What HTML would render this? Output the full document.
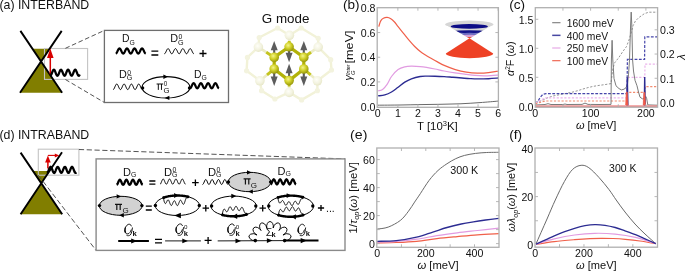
<!DOCTYPE html>
<html><head><meta charset="utf-8"><style>
html,body{margin:0;padding:0;background:#fff;width:685px;height:271px;overflow:hidden;}
svg{display:block;will-change:transform;}
text{font-family:"Liberation Sans",sans-serif;}
</style></head><body>
<svg width="685" height="271" viewBox="0 0 685 271">
<rect width="685" height="271" fill="#fff"/>
<text x="-0.6" y="9" font-size="12.6" text-anchor="start" fill="#111" textLength="89.8" lengthAdjust="spacingAndGlyphs">(a) INTERBAND</text>
<path d="M32.33 48.8 L49.71 48.8 L41 61.8 Z" fill="#817e00"/><path d="M41 61.8 L20 92.7 L62.1 92.7 Z" fill="#817e00"/><rect x="44.5" y="48.5" width="43.1" height="30.9" fill="none" stroke="#c4c4c4" stroke-width="1.1"/><path d="M20.4 30.9 L62.1 92.7 M61.7 30.9 L20 92.7" stroke="#000" stroke-width="1.9" fill="none" />
<line x1="50.3" y1="74.2" x2="50.3" y2="56" stroke="#d80000" stroke-width="1.5" />
<path d="M50.3 48.6 L47 58.1 L53.6 58.1 Z" fill="#d80000"/>
<path d="M50.3 75.7 L50.75 75.47 L51.19 74.81 L51.64 73.83 L52.09 72.67 L52.53 71.52 L52.98 70.55 L53.43 69.91 L53.88 69.7 L54.32 69.95 L54.77 70.63 L55.22 71.62 L55.66 72.79 L56.11 73.93 L56.56 74.89 L57 75.51 L57.45 75.7 L57.9 75.42 L58.35 74.73 L58.79 73.72 L59.24 72.56 L59.69 71.41 L60.13 70.47 L60.58 69.87 L61.03 69.7 L61.47 70 L61.92 70.71 L62.37 71.73 L62.82 72.9 L63.26 74.04 L63.71 74.97 L64.16 75.55 L64.6 75.69 L65.05 75.37 L65.5 74.64 L65.94 73.61 L66.39 72.44 L66.84 71.31 L67.28 70.4 L67.73 69.83 L68.18 69.71 L68.63 70.05 L69.07 70.8 L69.52 71.84 L69.97 73.01 L70.41 74.14 L70.86 75.04 L71.31 75.58 L71.75 75.68 L72.2 75.32 L72.65 74.55 L73.1 73.5 L73.54 72.33 L73.99 71.21 L74.44 70.32 L74.88 69.8 L75.33 69.73 L75.78 70.11 L76.22 70.89 L76.67 71.95 L77.12 73.13 L77.57 74.24 L78.01 75.11 L78.46 75.61 L78.91 75.67 L79.35 75.26 L79.8 74.46" stroke="#000" stroke-width="2.3" fill="none" />
<path d="M65.4 48.3 L104.4 30.4 M65.4 79.5 L104.4 102.5" stroke="#4a4a4a" stroke-width="0.95" fill="none" stroke-dasharray="4.6,2.6"/>
<rect x="104.4" y="30.4" width="124.1" height="72.1" fill="#fff" stroke="#6e6e6e" stroke-width="1.3"/>
<text x="121.9" y="41.8" font-size="10.4" text-anchor="start" fill="#111" >D</text><text x="129.41" y="44.7" font-size="6.8" text-anchor="start" fill="#111" >G</text>
<path d="M115.7 53.6 L116.17 53.4 L116.64 52.84 L117.11 51.99 L117.58 51 L118.05 50.01 L118.52 49.16 L118.99 48.6 L119.46 48.4 L119.93 48.6 L120.4 49.16 L120.87 50.01 L121.34 51 L121.81 51.99 L122.28 52.84 L122.75 53.4 L123.23 53.6 L123.7 53.4 L124.17 52.84 L124.64 51.99 L125.11 51 L125.58 50.01 L126.05 49.16 L126.52 48.6 L126.99 48.4 L127.46 48.6 L127.93 49.16 L128.4 50.01 L128.87 51 L129.34 51.99 L129.81 52.84 L130.28 53.4 L130.75 53.6 L131.22 53.4 L131.69 52.84 L132.16 51.99 L132.63 51 L133.1 50.01 L133.57 49.16 L134.04 48.6 L134.51 48.4 L134.98 48.6 L135.45 49.16 L135.92 50.01 L136.39 51 L136.86 51.99 L137.33 52.84 L137.8 53.4 L138.28 53.6 L138.75 53.4 L139.22 52.84 L139.69 51.99 L140.16 51 L140.63 50.01 L141.1 49.16 L141.57 48.6 L142.04 48.4 L142.51 48.6 L142.98 49.16 L143.45 50.01 L143.92 51 L144.39 51.99 L144.86 52.84 L145.33 53.4 L145.8 53.6" stroke="#000" stroke-width="2.2" fill="none" />
<path d="M151.4 51.2 H158.3 M151.4 55 H158.3" stroke="#000" stroke-width="1.3" fill="none" />
<text x="170.3" y="42.4" font-size="10.8" text-anchor="start" fill="#111" >D</text><text x="178.5" y="39.2" font-size="6.9" text-anchor="start" fill="#111" >0</text><text x="178.1" y="44.7" font-size="7.2" text-anchor="start" fill="#111" >G</text>
<path d="M164.4 53.8 L164.86 53.6 L165.32 53.04 L165.78 52.19 L166.24 51.2 L166.7 50.21 L167.17 49.36 L167.63 48.8 L168.09 48.6 L168.55 48.8 L169.01 49.36 L169.47 50.21 L169.93 51.2 L170.39 52.19 L170.85 53.04 L171.31 53.6 L171.78 53.8 L172.24 53.6 L172.7 53.04 L173.16 52.19 L173.62 51.2 L174.08 50.21 L174.54 49.36 L175 48.8 L175.46 48.6 L175.92 48.8 L176.38 49.36 L176.85 50.21 L177.31 51.2 L177.77 52.19 L178.23 53.04 L178.69 53.6 L179.15 53.8 L179.61 53.6 L180.07 53.04 L180.53 52.19 L180.99 51.2 L181.45 50.21 L181.92 49.36 L182.38 48.8 L182.84 48.6 L183.3 48.8 L183.76 49.36 L184.22 50.21 L184.68 51.2 L185.14 52.19 L185.6 53.04 L186.06 53.6 L186.53 53.8 L186.99 53.6 L187.45 53.04 L187.91 52.19 L188.37 51.2 L188.83 50.21 L189.29 49.36 L189.75 48.8 L190.21 48.6 L190.67 48.8 L191.13 49.36 L191.6 50.21 L192.06 51.2 L192.52 52.19 L192.98 53.04 L193.44 53.6 L193.9 53.8" stroke="#000" stroke-width="1" fill="none" />
<path d="M199.5 53.5 H206.5 M203 50 V57" stroke="#000" stroke-width="1.3" fill="none" />
<text x="119" y="78.2" font-size="10.8" text-anchor="start" fill="#111" >D</text><text x="127.2" y="74.9" font-size="6.9" text-anchor="start" fill="#111" >0</text><text x="126.8" y="80.2" font-size="7.2" text-anchor="start" fill="#111" >G</text>
<path d="M113.1 89.6 L113.56 89.39 L114.02 88.78 L114.47 87.87 L114.93 86.8 L115.39 85.73 L115.85 84.82 L116.3 84.21 L116.76 84 L117.22 84.21 L117.68 84.82 L118.14 85.73 L118.59 86.8 L119.05 87.87 L119.51 88.78 L119.97 89.39 L120.42 89.6 L120.88 89.39 L121.34 88.78 L121.8 87.87 L122.26 86.8 L122.71 85.73 L123.17 84.82 L123.63 84.21 L124.09 84 L124.55 84.21 L125 84.82 L125.46 85.73 L125.92 86.8 L126.38 87.87 L126.83 88.78 L127.29 89.39 L127.75 89.6 L128.21 89.39 L128.67 88.78 L129.12 87.87 L129.58 86.8 L130.04 85.73 L130.5 84.82 L130.95 84.21 L131.41 84 L131.87 84.21 L132.33 84.82 L132.79 85.73 L133.24 86.8 L133.7 87.87 L134.16 88.78 L134.62 89.39 L135.07 89.6 L135.53 89.39 L135.99 88.78 L136.45 87.87 L136.91 86.8 L137.36 85.73 L137.82 84.82 L138.28 84.21 L138.74 84 L139.2 84.21 L139.65 84.82 L140.11 85.73 L140.57 86.8 L141.03 87.87 L141.48 88.78 L141.94 89.39 L142.4 89.6" stroke="#000" stroke-width="1" fill="none" />
<ellipse cx="166" cy="87.3" rx="23.9" ry="10.7" fill="none" stroke="#000" stroke-width="1.05"/>
<path d="M168 76.7 L163.4 74.5 L163.4 78.9 Z" fill="#000"/>
<path d="M164.8 97.9 L169.4 95.7 L169.4 100.1 Z" fill="#000"/>
<circle cx="142.6" cy="87.9" r="1.7" fill="#000"/>
<circle cx="189.5" cy="87.9" r="1.7" fill="#000"/>
<path d="M156.6 84 H163.2 M158.32 84 V89.9 M161.48 84 V89.9" stroke="#111" stroke-width="1" fill="none" />
<text x="163.8" y="85.6" font-size="6.4" text-anchor="start" fill="#111" >0</text>
<text x="163.4" y="93.1" font-size="7.8" text-anchor="start" fill="#111" >G</text>
<text x="194" y="77.6" font-size="10.4" text-anchor="start" fill="#111" >D</text><text x="201.51" y="79.8" font-size="6.8" text-anchor="start" fill="#111" >G</text>
<path d="M190 88.3 L190.45 88.1 L190.91 87.54 L191.36 86.69 L191.81 85.7 L192.27 84.71 L192.72 83.86 L193.17 83.3 L193.62 83.1 L194.08 83.3 L194.53 83.86 L194.98 84.71 L195.44 85.7 L195.89 86.69 L196.34 87.54 L196.8 88.1 L197.25 88.3 L197.7 88.1 L198.16 87.54 L198.61 86.69 L199.06 85.7 L199.52 84.71 L199.97 83.86 L200.42 83.3 L200.88 83.1 L201.33 83.3 L201.78 83.86 L202.23 84.71 L202.69 85.7 L203.14 86.69 L203.59 87.54 L204.05 88.1 L204.5 88.3 L204.95 88.1 L205.41 87.54 L205.86 86.69 L206.31 85.7 L206.77 84.71 L207.22 83.86 L207.67 83.3 L208.12 83.1 L208.58 83.3 L209.03 83.86 L209.48 84.71 L209.94 85.7 L210.39 86.69 L210.84 87.54 L211.3 88.1 L211.75 88.3 L212.2 88.1 L212.66 87.54 L213.11 86.69 L213.56 85.7 L214.02 84.71 L214.47 83.86 L214.92 83.3 L215.38 83.1 L215.83 83.3 L216.28 83.86 L216.73 84.71 L217.19 85.7 L217.64 86.69 L218.09 87.54 L218.55 88.1 L219 88.3" stroke="#000" stroke-width="2.2" fill="none" />
<text x="261.8" y="23.4" font-size="13.6" text-anchor="start" fill="#111" textLength="47.6" lengthAdjust="spacingAndGlyphs">G mode</text>
<defs><radialGradient id="fa" cx="0.42" cy="0.38" r="0.65"><stop offset="0" stop-color="#fefef8"/><stop offset="0.6" stop-color="#f3f3e0"/><stop offset="1" stop-color="#e6e6c6"/></radialGradient><radialGradient id="ca" cx="0.4" cy="0.35" r="0.7"><stop offset="0" stop-color="#f4f48c"/><stop offset="0.45" stop-color="#d2d22a"/><stop offset="1" stop-color="#8e8e06"/></radialGradient><linearGradient id="dummy"><stop offset="0" stop-color="#000"/></linearGradient></defs>
<line x1="289.4" y1="35.3" x2="277.6" y2="28" stroke="#f2f2d8" stroke-width="2.4" stroke-linecap="round"/>
<line x1="289.4" y1="35.3" x2="301.2" y2="28" stroke="#f2f2d8" stroke-width="2.4" stroke-linecap="round"/>
<line x1="277.6" y1="28" x2="259.2" y2="37.5" stroke="#f2f2d8" stroke-width="2.4" stroke-linecap="round"/>
<line x1="259.2" y1="37.5" x2="258.4" y2="47.1" stroke="#f2f2d8" stroke-width="2.4" stroke-linecap="round"/>
<line x1="258.4" y1="47.1" x2="247.4" y2="57.4" stroke="#f2f2d8" stroke-width="2.4" stroke-linecap="round"/>
<line x1="247.4" y1="57.4" x2="246.6" y2="70.8" stroke="#f2f2d8" stroke-width="2.4" stroke-linecap="round"/>
<line x1="246.6" y1="70.8" x2="259.9" y2="80.8" stroke="#f2f2d8" stroke-width="2.4" stroke-linecap="round"/>
<line x1="259.9" y1="80.8" x2="261.6" y2="90.7" stroke="#f2f2d8" stroke-width="2.4" stroke-linecap="round"/>
<line x1="261.6" y1="90.7" x2="274.9" y2="99" stroke="#f2f2d8" stroke-width="2.4" stroke-linecap="round"/>
<line x1="274.9" y1="99" x2="289.2" y2="92.4" stroke="#f2f2d8" stroke-width="2.4" stroke-linecap="round"/>
<line x1="289.2" y1="92.4" x2="301.6" y2="99.9" stroke="#f2f2d8" stroke-width="2.4" stroke-linecap="round"/>
<line x1="301.6" y1="99.9" x2="317.4" y2="90.7" stroke="#f2f2d8" stroke-width="2.4" stroke-linecap="round"/>
<line x1="317.4" y1="90.7" x2="317.4" y2="80.8" stroke="#f2f2d8" stroke-width="2.4" stroke-linecap="round"/>
<line x1="317.4" y1="80.8" x2="331.5" y2="70" stroke="#f2f2d8" stroke-width="2.4" stroke-linecap="round"/>
<line x1="331.5" y1="70" x2="330.7" y2="59.7" stroke="#f2f2d8" stroke-width="2.4" stroke-linecap="round"/>
<line x1="330.7" y1="59.7" x2="318.2" y2="47.1" stroke="#f2f2d8" stroke-width="2.4" stroke-linecap="round"/>
<line x1="318.2" y1="47.1" x2="318.2" y2="38.3" stroke="#f2f2d8" stroke-width="2.4" stroke-linecap="round"/>
<line x1="318.2" y1="38.3" x2="301.2" y2="28" stroke="#f2f2d8" stroke-width="2.4" stroke-linecap="round"/>
<line x1="289.1" y1="46.8" x2="289.4" y2="35.3" stroke="#ececc4" stroke-width="2.6" stroke-linecap="round"/>
<line x1="274.2" y1="57.4" x2="258.4" y2="47.1" stroke="#ececc4" stroke-width="2.6" stroke-linecap="round"/>
<line x1="303.8" y1="57.4" x2="318.2" y2="47.1" stroke="#ececc4" stroke-width="2.6" stroke-linecap="round"/>
<line x1="274.2" y1="69" x2="259.9" y2="80.8" stroke="#ececc4" stroke-width="2.6" stroke-linecap="round"/>
<line x1="303.8" y1="69" x2="317.4" y2="80.8" stroke="#ececc4" stroke-width="2.6" stroke-linecap="round"/>
<line x1="289.1" y1="80.6" x2="289.2" y2="92.4" stroke="#ececc4" stroke-width="2.6" stroke-linecap="round"/>
<circle cx="289.4" cy="35.3" r="4.8" fill="url(#fa)"/>
<circle cx="277.6" cy="28" r="2.6" fill="#f3f3de"/>
<circle cx="301.2" cy="28" r="2.6" fill="#f3f3de"/>
<circle cx="258.4" cy="47.1" r="4.8" fill="url(#fa)"/>
<circle cx="259.2" cy="37.5" r="2.6" fill="#f3f3de"/>
<circle cx="247.4" cy="57.4" r="2.6" fill="#f3f3de"/>
<circle cx="318.2" cy="47.1" r="4.8" fill="url(#fa)"/>
<circle cx="318.2" cy="38.3" r="2.6" fill="#f3f3de"/>
<circle cx="330.7" cy="59.7" r="2.6" fill="#f3f3de"/>
<circle cx="259.9" cy="80.8" r="4.8" fill="url(#fa)"/>
<circle cx="246.6" cy="70.8" r="2.6" fill="#f3f3de"/>
<circle cx="261.6" cy="90.7" r="2.6" fill="#f3f3de"/>
<circle cx="317.4" cy="80.8" r="4.8" fill="url(#fa)"/>
<circle cx="331.5" cy="70" r="2.6" fill="#f3f3de"/>
<circle cx="317.4" cy="90.7" r="2.6" fill="#f3f3de"/>
<circle cx="289.2" cy="92.4" r="4.8" fill="url(#fa)"/>
<circle cx="274.9" cy="99" r="2.6" fill="#f3f3de"/>
<circle cx="301.6" cy="99.9" r="2.6" fill="#f3f3de"/>
<line x1="289.1" y1="46.8" x2="289.25" y2="41.05" stroke="#c4c41e" stroke-width="2.9" />
<line x1="274.2" y1="57.4" x2="266.3" y2="52.25" stroke="#c4c41e" stroke-width="2.9" />
<line x1="303.8" y1="57.4" x2="311" y2="52.25" stroke="#c4c41e" stroke-width="2.9" />
<line x1="274.2" y1="69" x2="267.05" y2="74.9" stroke="#c4c41e" stroke-width="2.9" />
<line x1="303.8" y1="69" x2="310.6" y2="74.9" stroke="#c4c41e" stroke-width="2.9" />
<line x1="289.1" y1="80.6" x2="289.15" y2="86.5" stroke="#c4c41e" stroke-width="2.9" />
<path d="M289.1 46.8 L303.8 57.4 L303.8 69 L289.1 80.6 L274.2 69 L274.2 57.4 L289.1 46.8" stroke="#b2b208" stroke-width="3.2" fill="none" />
<line x1="274.2" y1="57.4" x2="274.2" y2="49.4" stroke="#5c5c5c" stroke-width="2.1" /><path d="M274.2 40.9 L270.7 50.3 L277.7 50.3 Z" fill="#5c5c5c"/>
<line x1="303.8" y1="57.4" x2="303.8" y2="49.4" stroke="#5c5c5c" stroke-width="2.1" /><path d="M303.8 40.9 L300.3 50.3 L307.3 50.3 Z" fill="#5c5c5c"/>
<line x1="274.2" y1="69" x2="274.2" y2="77.5" stroke="#5c5c5c" stroke-width="2.1" /><path d="M274.2 86 L270.7 76.6 L277.7 76.6 Z" fill="#5c5c5c"/>
<line x1="303.8" y1="69" x2="303.8" y2="77.5" stroke="#5c5c5c" stroke-width="2.1" /><path d="M303.8 86 L300.3 76.6 L307.3 76.6 Z" fill="#5c5c5c"/>
<line x1="289.1" y1="46.8" x2="289.1" y2="53.7" stroke="#5c5c5c" stroke-width="2.1" /><path d="M289.1 62.2 L285.6 52.8 L292.6 52.8 Z" fill="#5c5c5c"/>
<line x1="289.1" y1="80.6" x2="289.1" y2="72.3" stroke="#5c5c5c" stroke-width="2.1" /><path d="M289.1 63.8 L285.6 73.2 L292.6 73.2 Z" fill="#5c5c5c"/>
<circle cx="289.1" cy="46.8" r="4.8" fill="url(#ca)"/>
<circle cx="274.2" cy="57.4" r="4.8" fill="url(#ca)"/>
<circle cx="303.8" cy="57.4" r="4.8" fill="url(#ca)"/>
<circle cx="274.2" cy="69" r="4.8" fill="url(#ca)"/>
<circle cx="303.8" cy="69" r="4.8" fill="url(#ca)"/>
<circle cx="289.1" cy="80.6" r="4.8" fill="url(#ca)"/>
<text x="343" y="9.1" font-size="12.4" text-anchor="start" fill="#111" textLength="16.5" lengthAdjust="spacingAndGlyphs">(b)</text>
<text x="375.5" y="12.12" font-size="10.6" text-anchor="end" fill="#111" >0.8</text><text x="375.5" y="36.8" font-size="10.6" text-anchor="end" fill="#111" >0.6</text><text x="375.5" y="61.48" font-size="10.6" text-anchor="end" fill="#111" >0.4</text><text x="375.5" y="86.16" font-size="10.6" text-anchor="end" fill="#111" >0.2</text><text x="375.5" y="110.84" font-size="10.6" text-anchor="end" fill="#111" >0.0</text>
<text x="377.8" y="116.7" font-size="10.6" text-anchor="middle" fill="#111" >0</text><text x="397.85" y="116.7" font-size="10.6" text-anchor="middle" fill="#111" >1</text><text x="417.9" y="116.7" font-size="10.6" text-anchor="middle" fill="#111" >2</text><text x="437.95" y="116.7" font-size="10.6" text-anchor="middle" fill="#111" >3</text><text x="458" y="116.7" font-size="10.6" text-anchor="middle" fill="#111" >4</text><text x="478.05" y="116.7" font-size="10.6" text-anchor="middle" fill="#111" >5</text><text x="498.1" y="116.7" font-size="10.6" text-anchor="middle" fill="#111" >6</text>
<text x="417" y="130.1" font-size="10.8" text-anchor="start" fill="#111" textLength="40.8" lengthAdjust="spacingAndGlyphs">T [10<tspan dy="-3.8" font-size="7.2">3</tspan><tspan dy="3.8">K]</tspan></text>
<g transform="translate(353 80.6) rotate(-90)" fill="#111"><text x="0" y="-0.6" font-size="11" font-style="italic">&#947;</text><text x="5.7" y="-3.3" font-size="6.2" font-style="italic" textLength="10.4" lengthAdjust="spacingAndGlyphs">Inter</text><text x="5.7" y="1.6" font-size="5.8" font-style="italic">G</text><text x="17.2" y="0" font-size="10.2" textLength="33" lengthAdjust="spacingAndGlyphs">[meV]</text></g>
<path d="M378 105.2 C381.67 105.17 393 105.1 400 105 C407 104.9 413.33 104.72 420 104.6 C426.67 104.48 433.33 104.43 440 104.3 C446.67 104.17 453.33 104.08 460 103.8 C466.67 103.52 473.63 103.05 480 102.6 C486.37 102.15 495.17 101.35 498.2 101.1" stroke="#6a6a6a" stroke-width="1" fill="none" />
<path d="M378.2 95.8 C379.3 95.65 382.58 95.53 384.8 94.9 C387.02 94.27 389.28 93.28 391.5 92 C393.72 90.72 395.88 88.85 398.1 87.2 C400.32 85.55 402.58 83.5 404.8 82.1 C407.02 80.7 408.83 79.73 411.4 78.8 C413.97 77.87 417.68 76.95 420.2 76.5 C422.72 76.05 424.03 76.15 426.5 76.1 C428.97 76.05 432.05 76.12 435 76.2 C437.95 76.28 441.2 76.42 444.2 76.6 C447.2 76.78 450.03 77.07 453 77.3 C455.97 77.53 459.17 77.78 462 78 C464.83 78.22 467.43 78.45 470 78.6 C472.57 78.75 474.32 78.88 477.4 78.9 C480.48 78.92 484.98 78.85 488.5 78.7 C492.02 78.55 496.83 78.12 498.5 78" stroke="#2c2c92" stroke-width="1.4" fill="none" />
<path d="M378.2 90.9 C378.93 90.65 381.12 90.5 382.6 89.4 C384.08 88.3 385.62 86.45 387.1 84.3 C388.58 82.15 389.67 78.97 391.5 76.5 C393.33 74.03 395.88 71.12 398.1 69.5 C400.32 67.88 402.58 67.35 404.8 66.8 C407.02 66.25 408.83 66.23 411.4 66.2 C413.97 66.17 417.68 66.4 420.2 66.6 C422.72 66.8 424.03 67 426.5 67.4 C428.97 67.8 432.05 68.4 435 69 C437.95 69.6 440.87 70.37 444.2 71 C447.53 71.63 451.3 72.25 455 72.8 C458.7 73.35 463.07 73.88 466.4 74.3 C469.73 74.72 472.07 75.05 475 75.3 C477.93 75.55 481.33 75.75 484 75.8 C486.67 75.85 488.58 75.73 491 75.6 C493.42 75.47 497.25 75.1 498.5 75" stroke="#e19be1" stroke-width="1.2" fill="none" />
<path d="M378.8 26.6 C379.1 25.68 379.83 22.48 380.6 21.1 C381.37 19.72 382.32 18.92 383.4 18.3 C384.48 17.68 385.87 17.33 387.1 17.4 C388.33 17.47 389.57 17.93 390.8 18.7 C392.03 19.47 393.28 20.68 394.5 22 C395.72 23.32 396.57 24.67 398.1 26.6 C399.63 28.53 401.85 31.3 403.7 33.6 C405.55 35.9 407.37 38.25 409.2 40.4 C411.03 42.55 412.85 44.65 414.7 46.5 C416.55 48.35 418.45 50.05 420.3 51.5 C422.15 52.95 423.95 54.03 425.8 55.2 C427.65 56.37 429.45 57.38 431.4 58.5 C433.35 59.62 435.37 60.75 437.5 61.9 C439.63 63.05 441.23 64.12 444.2 65.4 C447.17 66.68 451.6 68.47 455.3 69.6 C459 70.73 462.72 71.6 466.4 72.2 C470.08 72.8 473.72 73.12 477.4 73.2 C481.08 73.28 484.98 73.07 488.5 72.7 C492.02 72.33 496.83 71.28 498.5 71" stroke="#f0604a" stroke-width="1.2" fill="none" />
<ellipse cx="469.3" cy="24.4" rx="24.2" ry="3.8" fill="#d6d6d6"/>
<path d="M445.2 24.4 L469.5 38.4 L493.4 24.4 Z" fill="#d6d6d6"/>
<clipPath id="cone"><path d="M445.2 24.4 L469.5 38.4 L493.4 24.4 Z"/><ellipse cx="469.3" cy="24.4" rx="24.2" ry="3.8"/></clipPath>
<g clip-path="url(#cone)"><ellipse cx="469.3" cy="26.4" rx="18.6" ry="2.3" fill="#0c0c86"/><ellipse cx="469.3" cy="31.6" rx="15.6" ry="1.45" fill="#14148a"/><ellipse cx="469.3" cy="34.0" rx="12.0" ry="1.2" fill="#6c6cc0"/><ellipse cx="469.3" cy="35.9" rx="8.0" ry="1.1" fill="#d6a2d6"/><path d="M463.5 37.0 L475.5 37.0 L469.5 38.8 Z" fill="#ec4a30"/></g>
<path d="M469.5 38.3 L445.8 53.4 A23.7 4.8 0 0 0 493.2 53.4 Z" fill="#ee4125"/>
<rect x="377.2" y="7.7" width="121.2" height="99.6" fill="none" stroke="#b0b0b0" stroke-width="1.3"/>
<path d="M397.85 107.3 V104.3 M417.9 107.3 V104.3 M437.95 107.3 V104.3 M458 107.3 V104.3 M478.05 107.3 V104.3 M498.1 107.3 V104.3 M397.85 7.7 V10.7 M417.9 7.7 V10.7 M437.95 7.7 V10.7 M458 7.7 V10.7 M478.05 7.7 V10.7 M498.1 7.7 V10.7 M377.2 81.92 H380.2 M377.2 57.24 H380.2 M377.2 32.56 H380.2 M498.4 81.92 H495.4 M498.4 57.24 H495.4 M498.4 32.56 H495.4 " stroke="#b0b0b0" stroke-width="0.9" fill="none" />
<text x="509.2" y="9.1" font-size="12.4" text-anchor="start" fill="#111" textLength="15.9" lengthAdjust="spacingAndGlyphs">(c)</text>
<text x="533.4" y="23.54" font-size="10.6" text-anchor="end" fill="#111" >1.5</text><text x="533.4" y="52.54" font-size="10.6" text-anchor="end" fill="#111" >1.0</text><text x="533.4" y="81.54" font-size="10.6" text-anchor="end" fill="#111" >0.5</text><text x="533.4" y="110.54" font-size="10.6" text-anchor="end" fill="#111" >0.0</text>
<text x="660" y="34.05" font-size="10.6" text-anchor="start" fill="#111" >0.3</text><text x="660" y="58.28" font-size="10.6" text-anchor="start" fill="#111" >0.2</text><text x="660" y="82.51" font-size="10.6" text-anchor="start" fill="#111" >0.1</text><text x="660" y="106.74" font-size="10.6" text-anchor="start" fill="#111" >0.0</text>
<text x="535.3" y="116.7" font-size="10.6" text-anchor="middle" fill="#111" >0</text><text x="590.6" y="116.7" font-size="10.6" text-anchor="middle" fill="#111" >100</text><text x="645.9" y="116.7" font-size="10.6" text-anchor="middle" fill="#111" >200</text>
<text x="575.9" y="129.4" font-size="10.8" text-anchor="start" fill="#111" textLength="40.4" lengthAdjust="spacingAndGlyphs"><tspan font-style="italic">&#969;</tspan> [meV]</text>
<g transform="translate(514.3 75.9) rotate(-90)" fill="#111"><text x="0" y="0" font-size="10.6" textLength="34.4" lengthAdjust="spacingAndGlyphs"><tspan font-style="italic">&#945;</tspan><tspan font-size="6.4" dy="-4.4">2</tspan><tspan dy="4.4">F (</tspan><tspan font-style="italic">&#969;</tspan>)</text></g>
<text transform="translate(684.8 57.0) rotate(-90)" font-size="11.4" text-anchor="middle" fill="#111" font-style="italic">&#955;</text>
<line x1="552.2" y1="22.7" x2="560.5" y2="22.7" stroke="#7a7a7a" stroke-width="1.1" />
<text x="566.8" y="26.9" font-size="10.3" text-anchor="start" fill="#111" >1600 meV</text>
<line x1="552.2" y1="35.35" x2="560.5" y2="35.35" stroke="#4848a2" stroke-width="1.5" />
<text x="566.8" y="39.55" font-size="10.3" text-anchor="start" fill="#111" >400 meV</text>
<line x1="552.2" y1="48" x2="560.5" y2="48" stroke="#f0ccf0" stroke-width="2" />
<text x="566.8" y="52.2" font-size="10.3" text-anchor="start" fill="#111" >250 meV</text>
<line x1="552.2" y1="60.65" x2="560.5" y2="60.65" stroke="#f07462" stroke-width="1.3" />
<text x="566.8" y="64.85" font-size="10.3" text-anchor="start" fill="#111" >100 meV</text>
<path d="M535.5 102.6 L539 101.6 L543 100 L548 97.6 L553 96 L558 95 L563 94 L568 93 L573 92 L578 90.6 L583 89 L588 87.6 L593 86.4 L599 85.4 L605 84.6 L611 83.6 L612.6 70 L614.5 63 L618.8 57.6 L622.5 52 L626.5 46.5 L629 40 L631 33.2 L633.2 25.5 L635.4 21 L638.7 17.7 L644.3 13.7 L648.7 12.2 L657.3 12.2" stroke="#8a8a8a" stroke-width="0.9" fill="none" stroke-dasharray="2.2,1.6"/>
<path d="M535.3 103.5 L538 101 L540.5 97 L543 94.2 L546 93.6 L627 93.6 L627.4 59.4 L644.6 59.4 L644.8 36.8 L657.3 36.8" stroke="#4646aa" stroke-width="1.2" fill="none" stroke-dasharray="2.8,1.5"/>
<path d="M535.3 103.2 L545 97.8 L627 97.8 L627.3 77.4 L644.8 77.4 L645 64.1 L657.3 64.1" stroke="#ecb4ec" stroke-width="1.2" fill="none" stroke-dasharray="2.2,1.6"/>
<path d="M535.3 103.8 L545 101 L627 101 L627.3 92.4 L644.8 92.4 L645 86.6 L657.3 86.6" stroke="#f28c70" stroke-width="1.2" fill="none" stroke-dasharray="2.2,1.6"/>
<path d="M535.5 105 L545 104.5 L548 103.7 L551 104.5 L563 104.5 L565 104 L567 104.5 L582 104.4 L585 103.1 L588 104.4 L600 104.5 L611 104.4 L611.4 60 L612.1 40.3 L612.8 60 L614 78.5 L616 85.8 L619 88.6 L621.5 89.9 L624 89.2 L626 87.7 L627.5 84 L628.5 74.8 L629.5 60 L630.6 25 L631.2 12.1 L631.8 25 L632.6 60 L633.5 71 L635 80.3 L637 85.8 L638.5 92 L640 97.2 L642.4 98.8 L644.6 98.2 L645.8 96.6 L646.6 98.2 L647.8 104.9 L657 105.2" stroke="#747474" stroke-width="0.95" fill="none" stroke-linejoin="round"/>
<path d="M626.9 106.2 L627.3 77.3 L627.9 106.2 M644.3 106.2 L644.7 77 L645.2 106.2" stroke="#2c2c92" stroke-width="1.4" fill="none" />
<path d="M625.6 105 L626.2 92.3 L627.3 92.3 L628 105 Z" stroke="#f25a46" stroke-width="0.6" fill="#f25a46" />
<path d="M643.2 105 L643.8 92.4 L644.8 92.4 L645.5 105 Z" stroke="#f25a46" stroke-width="0.6" fill="#f25a46" />
<rect x="535.3" y="105.3" width="122.3" height="1.9" fill="#f08a8a"/>
<rect x="535.3" y="7.7" width="122.3" height="99.5" fill="none" stroke="#b0b0b0" stroke-width="1.3"/>
<path d="M562.95 107.2 V104.2 M590.6 107.2 V104.2 M618.25 107.2 V104.2 M645.9 107.2 V104.2 M562.95 7.7 V10.7 M590.6 7.7 V10.7 M618.25 7.7 V10.7 M645.9 7.7 V10.7 M535.3 77.3 H538.3 M535.3 48.3 H538.3 M535.3 19.3 H538.3 M657.6 78.27 H654.6 M657.6 54.04 H654.6 M657.6 29.81 H654.6 " stroke="#b0b0b0" stroke-width="0.9" fill="none" />
<text x="350.1" y="139.3" font-size="12.4" text-anchor="start" fill="#111" textLength="17.3" lengthAdjust="spacingAndGlyphs">(e)</text>
<text x="374.9" y="163.84" font-size="10.6" text-anchor="end" fill="#111" >60</text><text x="374.9" y="191.84" font-size="10.6" text-anchor="end" fill="#111" >40</text><text x="374.9" y="219.84" font-size="10.6" text-anchor="end" fill="#111" >20</text><text x="374.9" y="247.84" font-size="10.6" text-anchor="end" fill="#111" >0</text>
<text x="377.1" y="256.8" font-size="10.6" text-anchor="middle" fill="#111" >0</text><text x="425.8" y="256.8" font-size="10.6" text-anchor="middle" fill="#111" >200</text><text x="474.5" y="256.8" font-size="10.6" text-anchor="middle" fill="#111" >400</text>
<text x="417.4" y="269.1" font-size="10.8" text-anchor="start" fill="#111" textLength="41.2" lengthAdjust="spacingAndGlyphs"><tspan font-style="italic">&#969;</tspan> [meV]</text>
<g transform="translate(357.2 233.6) rotate(-90)" fill="#111"><text x="0" y="0" font-size="10.6" textLength="71.6" lengthAdjust="spacingAndGlyphs">1/<tspan font-style="italic">&#964;</tspan><tspan font-size="7" dy="2.2" font-style="italic">op</tspan><tspan dy="-2.2">(</tspan><tspan font-style="italic">&#969;</tspan>) [meV]</text></g>
<text x="450.2" y="173.8" font-size="10.6" text-anchor="start" fill="#111" textLength="28.1" lengthAdjust="spacingAndGlyphs">300 K</text>
<path d="M377.2 229.1 C379.03 228.77 384.33 228.55 388.2 227.1 C392.07 225.65 397.02 223.05 400.4 220.4 C403.78 217.75 406.13 214.25 408.5 211.2 C410.87 208.15 412.63 205.02 414.6 202.1 C416.57 199.18 417.88 197.32 420.3 193.7 C422.72 190.08 426.15 184.27 429.1 180.4 C432.05 176.53 435.03 173.27 438 170.5 C440.97 167.73 443.95 165.77 446.9 163.8 C449.85 161.83 452.75 160.1 455.7 158.7 C458.65 157.3 461.28 156.28 464.6 155.4 C467.92 154.52 471.92 153.88 475.6 153.4 C479.28 152.92 482.83 152.68 486.7 152.5 C490.57 152.32 496.78 152.33 498.8 152.3" stroke="#6a6a6a" stroke-width="1" fill="none" />
<path d="M377.2 242.9 C380.38 242.83 389.73 242.77 396.3 242.5 C402.87 242.23 409.83 241.95 416.6 241.3 C423.37 240.65 430.13 239.38 436.9 238.6 C443.67 237.82 450.43 237.23 457.2 236.6 C463.97 235.97 470.57 235.3 477.5 234.8 C484.43 234.3 495.25 233.8 498.8 233.6" stroke="#f0604a" stroke-width="1.2" fill="none" />
<path d="M377.2 242.1 C380.38 241.97 389.73 241.78 396.3 241.3 C402.87 240.82 409.83 240.15 416.6 239.2 C423.37 238.25 430.13 236.67 436.9 235.6 C443.67 234.53 450.43 233.65 457.2 232.8 C463.97 231.95 470.57 231.28 477.5 230.5 C484.43 229.72 495.25 228.5 498.8 228.1" stroke="#e19be1" stroke-width="1.2" fill="none" />
<path d="M377.2 241.3 C380.38 241.2 389.73 241.38 396.3 240.7 C402.87 240.02 410.52 238.63 416.6 237.2 C422.68 235.77 427.73 233.72 432.8 232.1 C437.87 230.48 442.27 228.85 447 227.5 C451.73 226.15 456.8 224.95 461.2 224 C465.6 223.05 469.33 222.47 473.4 221.8 C477.47 221.13 481.37 220.58 485.6 220 C489.83 219.42 496.6 218.58 498.8 218.3" stroke="#2c2c92" stroke-width="1.3" fill="none" />
<rect x="376.8" y="148" width="122.2" height="99.3" fill="none" stroke="#b0b0b0" stroke-width="1.3"/>
<path d="M401.45 247.3 V244.3 M425.8 247.3 V244.3 M450.15 247.3 V244.3 M474.5 247.3 V244.3 M401.45 148 V151 M425.8 148 V151 M450.15 148 V151 M474.5 148 V151 M376.8 243.6 H379.8 M376.8 229.6 H379.8 M376.8 215.6 H379.8 M376.8 201.6 H379.8 M376.8 187.6 H379.8 M376.8 173.6 H379.8 M376.8 159.6 H379.8 M499 243.6 H496 M499 229.6 H496 M499 215.6 H496 M499 201.6 H496 M499 187.6 H496 M499 173.6 H496 M499 159.6 H496 " stroke="#b0b0b0" stroke-width="0.9" fill="none" />
<text x="509.2" y="139.3" font-size="12.4" text-anchor="start" fill="#111" textLength="13" lengthAdjust="spacingAndGlyphs">(f)</text>
<text x="533.2" y="152.54" font-size="10.6" text-anchor="end" fill="#111" >40</text><text x="533.2" y="200.84" font-size="10.6" text-anchor="end" fill="#111" >20</text><text x="533.2" y="249.14" font-size="10.6" text-anchor="end" fill="#111" >0</text>
<text x="535.1" y="256.8" font-size="10.6" text-anchor="middle" fill="#111" >0</text><text x="583.96" y="256.8" font-size="10.6" text-anchor="middle" fill="#111" >200</text><text x="632.82" y="256.8" font-size="10.6" text-anchor="middle" fill="#111" >400</text>
<text x="576" y="269.1" font-size="10.8" text-anchor="start" fill="#111" textLength="40.6" lengthAdjust="spacingAndGlyphs"><tspan font-style="italic">&#969;</tspan> [meV]</text>
<g transform="translate(515.4 231.7) rotate(-90)" fill="#111"><text x="0" y="0" font-size="10.6" textLength="69" lengthAdjust="spacingAndGlyphs"><tspan font-style="italic">&#969;&#955;</tspan><tspan font-size="7" dy="2.2" font-style="italic">op</tspan><tspan dy="-2.2">(</tspan><tspan font-style="italic">&#969;</tspan>) [meV]</text></g>
<text x="609.1" y="172.4" font-size="10.6" text-anchor="start" fill="#111" textLength="27.4" lengthAdjust="spacingAndGlyphs">300 K</text>
<path d="M536 243.9 C537.83 239.75 543.78 226.32 547 219 C550.22 211.68 552.4 206.25 555.3 200 C558.2 193.75 561.52 186.6 564.4 181.5 C567.28 176.4 569.82 172.1 572.6 169.4 C575.38 166.7 578.4 165.58 581.1 165.3 C583.8 165.02 585.82 165.67 588.8 167.7 C591.78 169.73 595.62 173.83 599 177.5 C602.38 181.17 606.23 185.95 609.1 189.7 C611.97 193.45 613.55 196.28 616.2 200 C618.85 203.72 621.87 208 625 212 C628.13 216 631.67 220.33 635 224 C638.33 227.67 641.53 230.72 645 234 C648.47 237.28 654 242.08 655.8 243.7" stroke="#6a6a6a" stroke-width="1" fill="none" />
<path d="M536 244.5 C539.05 244.03 547.87 242.5 554.3 241.7 C560.73 240.9 568.65 240.22 574.6 239.7 C580.55 239.18 585.6 238.83 590 238.6 C594.4 238.37 597.17 238.32 601 238.3 C604.83 238.28 608.95 238.33 613 238.5 C617.05 238.67 620.8 238.88 625.3 239.3 C629.8 239.72 634.92 240.27 640 241 C645.08 241.73 653.17 243.25 655.8 243.7" stroke="#f0604a" stroke-width="1.2" fill="none" />
<path d="M536 244.1 C539.05 243.23 547.87 240.42 554.3 238.9 C560.73 237.38 567.83 235.93 574.6 235 C581.37 234.07 588.13 233.45 594.9 233.3 C601.67 233.15 608.43 233.42 615.2 234.1 C621.97 234.78 628.73 235.8 635.5 237.4 C642.27 239 652.42 242.65 655.8 243.7" stroke="#e19be1" stroke-width="1.2" fill="none" />
<path d="M536 244.1 C537.5 243.45 541.95 241.58 545 240.2 C548.05 238.82 551.13 237.2 554.3 235.8 C557.47 234.4 560.62 233.05 564 231.8 C567.38 230.55 571.1 229.32 574.6 228.3 C578.1 227.28 581.62 226.32 585 225.7 C588.38 225.08 591.57 224.67 594.9 224.6 C598.23 224.53 601.62 224.82 605 225.3 C608.38 225.78 611.87 226.58 615.2 227.5 C618.53 228.42 621.62 229.62 625 230.8 C628.38 231.98 632.17 233.27 635.5 234.6 C638.83 235.93 641.62 237.28 645 238.8 C648.38 240.32 654 242.88 655.8 243.7" stroke="#2c2c92" stroke-width="1.3" fill="none" />
<rect x="535" y="148" width="122.5" height="99.2" fill="none" stroke="#b0b0b0" stroke-width="1.3"/>
<path d="M559.53 247.2 V244.2 M583.96 247.2 V244.2 M608.39 247.2 V244.2 M632.82 247.2 V244.2 M559.53 148 V151 M583.96 148 V151 M608.39 148 V151 M632.82 148 V151 M535 220.75 H538 M535 196.6 H538 M535 172.45 H538 M657.5 220.75 H654.5 M657.5 196.6 H654.5 M657.5 172.45 H654.5 " stroke="#b0b0b0" stroke-width="0.9" fill="none" />
<text x="-0.6" y="139" font-size="12.6" text-anchor="start" fill="#111" textLength="89.8" lengthAdjust="spacingAndGlyphs">(d) INTRABAND</text>
<path d="M32.52 170.9 L49.4 170.9 L40.8 183.6 Z" fill="#817e00"/><path d="M40.8 183.6 L20.6 214.3 L62.2 214.3 Z" fill="#817e00"/><rect x="38.3" y="149.2" width="40.6" height="26" fill="none" stroke="#c4c4c4" stroke-width="1.1"/><path d="M20.6 152.6 L62.2 214.3 M62 152.3 L20.6 214.3" stroke="#000" stroke-width="1.9" fill="none" />
<line x1="47.9" y1="168.6" x2="47.9" y2="161" stroke="#d80000" stroke-width="1.5" />
<path d="M47.9 155.6 L45.1 162.6 L50.7 162.6 Z" fill="#d80000"/>
<line x1="47.9" y1="155.4" x2="55.5" y2="155.4" stroke="#d80000" stroke-width="1.1" />
<path d="M59.4 155.4 L54.8 153.4 L54.8 157.4 Z" fill="#d80000"/>
<path d="M47 172.9 L47.45 172.67 L47.9 172.01 L48.35 171.02 L48.8 169.86 L49.25 168.7 L49.7 167.73 L50.16 167.1 L50.61 166.9 L51.06 167.17 L51.51 167.86 L51.96 168.86 L52.41 170.03 L52.86 171.18 L53.31 172.13 L53.76 172.73 L54.21 172.89 L54.66 172.6 L55.11 171.88 L55.56 170.85 L56.02 169.68 L56.47 168.54 L56.92 167.62 L57.37 167.04 L57.82 166.91 L58.27 167.24 L58.72 167.99 L59.17 169.03 L59.62 170.2 L60.07 171.33 L60.52 172.24 L60.97 172.78 L61.42 172.88 L61.88 172.51 L62.33 171.74 L62.78 170.69 L63.23 169.51 L63.68 168.39 L64.13 167.51 L64.58 166.99 L65.03 166.93 L65.48 167.33 L65.93 168.12 L66.38 169.2 L66.83 170.38 L67.28 171.48 L67.74 172.34 L68.19 172.83 L68.64 172.85 L69.09 172.43 L69.54 171.6 L69.99 170.52 L70.44 169.34 L70.89 168.24 L71.34 167.41 L71.79 166.96 L72.24 166.96 L72.69 167.42 L73.14 168.27 L73.6 169.37 L74.05 170.55 L74.5 171.63 L74.95 172.44 L75.4 172.86 L75.85 172.82 L76.3 172.33" stroke="#000" stroke-width="2.3" fill="none" />
<path d="M78.9 149.5 L345 158.9 M38.3 175.2 L96.1 250.4" stroke="#4a4a4a" stroke-width="0.95" fill="none" stroke-dasharray="5.2,2.6"/>
<rect x="96.1" y="158.9" width="248.9" height="91.5" fill="#fff" stroke="#8a8a8a" stroke-width="1.4"/>
<text x="123.1" y="175.5" font-size="11" text-anchor="start" fill="#111" >D</text><text x="131.04" y="176.6" font-size="6.9" text-anchor="start" fill="#111" >G</text>
<path d="M116.6 184.8 L117.01 184.61 L117.42 184.07 L117.82 183.26 L118.23 182.3 L118.64 181.34 L119.05 180.53 L119.45 179.99 L119.86 179.8 L120.27 179.99 L120.68 180.53 L121.09 181.34 L121.49 182.3 L121.9 183.26 L122.31 184.07 L122.72 184.61 L123.12 184.8 L123.53 184.61 L123.94 184.07 L124.35 183.26 L124.76 182.3 L125.16 181.34 L125.57 180.53 L125.98 179.99 L126.39 179.8 L126.8 179.99 L127.2 180.53 L127.61 181.34 L128.02 182.3 L128.43 183.26 L128.83 184.07 L129.24 184.61 L129.65 184.8 L130.06 184.61 L130.47 184.07 L130.87 183.26 L131.28 182.3 L131.69 181.34 L132.1 180.53 L132.5 179.99 L132.91 179.8 L133.32 179.99 L133.73 180.53 L134.14 181.34 L134.54 182.3 L134.95 183.26 L135.36 184.07 L135.77 184.61 L136.17 184.8 L136.58 184.61 L136.99 184.07 L137.4 183.26 L137.81 182.3 L138.21 181.34 L138.62 180.53 L139.03 179.99 L139.44 179.8 L139.85 179.99 L140.25 180.53 L140.66 181.34 L141.07 182.3 L141.48 183.26 L141.88 184.07 L142.29 184.61 L142.7 184.8" stroke="#000" stroke-width="2.3" fill="none" />
<path d="M149.3 181 H155.4 M149.3 184.1 H155.4" stroke="#000" stroke-width="1.3" fill="none" />
<text x="163.9" y="175.5" font-size="11.2" text-anchor="start" fill="#111" >D</text><text x="172.39" y="171.6" font-size="6.9" text-anchor="start" fill="#111" >0</text><text x="171.99" y="176.9" font-size="7" text-anchor="start" fill="#111" >G</text>
<path d="M160 184.2 L160.4 184 L160.8 183.44 L161.2 182.59 L161.59 181.6 L161.99 180.61 L162.39 179.76 L162.79 179.2 L163.19 179 L163.59 179.2 L163.98 179.76 L164.38 180.61 L164.78 181.6 L165.18 182.59 L165.58 183.44 L165.98 184 L166.38 184.2 L166.77 184 L167.17 183.44 L167.57 182.59 L167.97 181.6 L168.37 180.61 L168.77 179.76 L169.16 179.2 L169.56 179 L169.96 179.2 L170.36 179.76 L170.76 180.61 L171.16 181.6 L171.55 182.59 L171.95 183.44 L172.35 184 L172.75 184.2 L173.15 184 L173.55 183.44 L173.95 182.59 L174.34 181.6 L174.74 180.61 L175.14 179.76 L175.54 179.2 L175.94 179 L176.34 179.2 L176.73 179.76 L177.13 180.61 L177.53 181.6 L177.93 182.59 L178.33 183.44 L178.73 184 L179.12 184.2 L179.52 184 L179.92 183.44 L180.32 182.59 L180.72 181.6 L181.12 180.61 L181.52 179.76 L181.91 179.2 L182.31 179 L182.71 179.2 L183.11 179.76 L183.51 180.61 L183.91 181.6 L184.3 182.59 L184.7 183.44 L185.1 184 L185.5 184.2" stroke="#000" stroke-width="1" fill="none" />
<path d="M192.1 182.7 H198.7 M195.4 179.4 V186" stroke="#000" stroke-width="1.3" fill="none" />
<text x="208" y="175.8" font-size="11.2" text-anchor="start" fill="#111" >D</text><text x="216.49" y="171.9" font-size="6.9" text-anchor="start" fill="#111" >0</text><text x="216.09" y="177.2" font-size="7" text-anchor="start" fill="#111" >G</text>
<path d="M202.6 184.5 L203 184.31 L203.39 183.77 L203.79 182.96 L204.19 182 L204.58 181.04 L204.98 180.23 L205.38 179.69 L205.78 179.5 L206.17 179.69 L206.57 180.23 L206.97 181.04 L207.36 182 L207.76 182.96 L208.16 183.77 L208.55 184.31 L208.95 184.5 L209.35 184.31 L209.74 183.77 L210.14 182.96 L210.54 182 L210.93 181.04 L211.33 180.23 L211.73 179.69 L212.12 179.5 L212.52 179.69 L212.92 180.23 L213.32 181.04 L213.71 182 L214.11 182.96 L214.51 183.77 L214.9 184.31 L215.3 184.5 L215.7 184.31 L216.09 183.77 L216.49 182.96 L216.89 182 L217.28 181.04 L217.68 180.23 L218.08 179.69 L218.47 179.5 L218.87 179.69 L219.27 180.23 L219.67 181.04 L220.06 182 L220.46 182.96 L220.86 183.77 L221.25 184.31 L221.65 184.5 L222.05 184.31 L222.44 183.77 L222.84 182.96 L223.24 182 L223.63 181.04 L224.03 180.23 L224.43 179.69 L224.82 179.5 L225.22 179.69 L225.62 180.23 L226.02 181.04 L226.41 182 L226.81 182.96 L227.21 183.77 L227.6 184.31 L228 184.5" stroke="#000" stroke-width="1" fill="none" />
<ellipse cx="249.5" cy="182" rx="21.3" ry="9.7" fill="#d2d2d2" stroke="#000" stroke-width="1.0"/>
<path d="M251.6 172.4 L247 170.2 L247 174.6 Z" fill="#000"/>
<path d="M248.2 191.6 L252.8 189.4 L252.8 193.8 Z" fill="#000"/>
<circle cx="228.4" cy="182" r="1.7" fill="#000"/>
<circle cx="270.6" cy="182" r="1.7" fill="#000"/>
<path d="M243.6 178.9 H250.6 M245.42 178.9 V184.5 M248.78 178.9 V184.5" stroke="#111" stroke-width="1.2" fill="none" />
<text x="250.7" y="187.7" font-size="8" text-anchor="start" fill="#111" >G</text>
<text x="277.6" y="174.9" font-size="11" text-anchor="start" fill="#111" >D</text><text x="285.54" y="176.4" font-size="7" text-anchor="start" fill="#111" >G</text>
<path d="M270.6 184.4 L271 184.21 L271.39 183.67 L271.79 182.86 L272.19 181.9 L272.58 180.94 L272.98 180.13 L273.38 179.59 L273.78 179.4 L274.17 179.59 L274.57 180.13 L274.97 180.94 L275.36 181.9 L275.76 182.86 L276.16 183.67 L276.55 184.21 L276.95 184.4 L277.35 184.21 L277.74 183.67 L278.14 182.86 L278.54 181.9 L278.93 180.94 L279.33 180.13 L279.73 179.59 L280.12 179.4 L280.52 179.59 L280.92 180.13 L281.32 180.94 L281.71 181.9 L282.11 182.86 L282.51 183.67 L282.9 184.21 L283.3 184.4 L283.7 184.21 L284.09 183.67 L284.49 182.86 L284.89 181.9 L285.28 180.94 L285.68 180.13 L286.08 179.59 L286.48 179.4 L286.87 179.59 L287.27 180.13 L287.67 180.94 L288.06 181.9 L288.46 182.86 L288.86 183.67 L289.25 184.21 L289.65 184.4 L290.05 184.21 L290.44 183.67 L290.84 182.86 L291.24 181.9 L291.63 180.94 L292.03 180.13 L292.43 179.59 L292.82 179.4 L293.22 179.59 L293.62 180.13 L294.02 180.94 L294.41 181.9 L294.81 182.86 L295.21 183.67 L295.6 184.21 L296 184.4" stroke="#000" stroke-width="2.3" fill="none" />
<ellipse cx="120.7" cy="205.8" rx="21.4" ry="9.5" fill="#d2d2d2" stroke="#000" stroke-width="1.0"/>
<path d="M121.2 196.4 L116.6 194.2 L116.6 198.6 Z" fill="#000"/>
<path d="M119.2 215.2 L123.8 213 L123.8 217.4 Z" fill="#000"/>
<circle cx="99.5" cy="205.6" r="1.7" fill="#000"/>
<circle cx="141.9" cy="205.6" r="1.7" fill="#000"/>
<path d="M115 204.3 H122 M116.82 204.3 V210 M120.18 204.3 V210" stroke="#111" stroke-width="1.2" fill="none" />
<text x="122.6" y="213.2" font-size="8" text-anchor="start" fill="#111" >G</text>
<path d="M145.8 206.1 H151.8 M145.8 210 H151.8" stroke="#000" stroke-width="1.3" fill="none" />
<ellipse cx="177.3" cy="205.5" rx="22.1" ry="10.0" fill="none" stroke="#000" stroke-width="1.0"/>
<path d="M163.6 197.65 L164.12 197.47 L164.65 197.3 L165.19 197.14 L165.74 196.98 L166.3 196.83 L166.87 196.68 L167.44 196.55 L168.03 196.42 L168.63 196.3 L169.23 196.19 L169.84 196.09 L170.46 195.99 L171.08 195.9 L171.71 195.83 L172.34 195.76 L172.98 195.69 L173.62 195.64 L174.26 195.6 L174.91 195.56 L175.56 195.53 L176.21 195.51 L176.86 195.5 L177.51 195.5 L178.16 195.51 L178.81 195.52 L179.46 195.55 L180.11 195.58 L180.75 195.62 L181.39 195.67 L182.03 195.73 L182.67 195.8 L183.3 195.88 L183.92 195.96 L184.54 196.05 L185.15 196.15 L185.76 196.26 L186.35 196.38 L186.95 196.5 L187.53 196.64 L188.1 196.78" stroke="#000" stroke-width="2.4" fill="none" />
<path d="M178.6 195.5 L174.1 193.1 L174.1 197.9 Z" fill="#000"/>
<path d="M174.2 215.5 L180.9 212.7 L180.9 218.3 Z" fill="#000"/>
<circle cx="155.4" cy="205.5" r="1.7" fill="#000"/>
<circle cx="199.3" cy="205.5" r="1.7" fill="#000"/>
<circle cx="163.6" cy="197.65" r="1.4" fill="#000"/>
<circle cx="188.1" cy="196.78" r="1.4" fill="#000"/>
<path d="M163.6 197.65 L163.75 199.55 L163.91 200.35 L164.06 201 L164.21 201.56 L164.37 202.05 L164.52 202.48 L164.67 202.83 L164.82 203.12 L164.98 203.34 L165.13 203.48 L165.28 203.56 L165.44 203.57 L165.59 203.52 L165.74 203.4 L165.9 203.23 L166.05 203.01 L166.2 202.76 L166.36 202.47 L166.51 202.15 L166.66 201.83 L166.82 201.5 L166.97 201.18 L167.12 200.88 L167.28 200.6 L167.43 200.36 L167.58 200.16 L167.73 200 L167.89 199.9 L168.04 199.86 L168.19 199.87 L168.35 199.95 L168.5 200.08 L168.65 200.27 L168.81 200.52 L168.96 200.81 L169.11 201.15 L169.27 201.51 L169.42 201.91 L169.57 202.33 L169.72 202.75 L169.88 203.17 L170.03 203.58 L170.18 203.97 L170.34 204.33 L170.49 204.66 L170.64 204.94 L170.8 205.17 L170.95 205.34 L171.1 205.45 L171.26 205.5 L171.41 205.49 L171.56 205.42 L171.72 205.29 L171.87 205.1 L172.02 204.86 L172.17 204.58 L172.33 204.26 L172.48 203.91 L172.63 203.54 L172.79 203.16 L172.94 202.78 L173.09 202.41 L173.25 202.05 L173.4 201.73 L173.55 201.44 L173.71 201.19 L173.86 200.99 L174.01 200.84 L174.17 200.76 L174.32 200.73 L174.47 200.76 L174.62 200.85 L174.78 201.01 L174.93 201.21 L175.08 201.46 L175.24 201.76 L175.39 202.09 L175.54 202.45 L175.7 202.83 L175.85 203.21 L176 203.6 L176.16 203.97 L176.31 204.33 L176.46 204.66 L176.62 204.94 L176.77 205.19 L176.92 205.38 L177.07 205.52 L177.23 205.6 L177.38 205.62 L177.53 205.57 L177.69 205.47 L177.84 205.3 L177.99 205.08 L178.15 204.81 L178.3 204.49 L178.45 204.14 L178.61 203.76 L178.76 203.35 L178.91 202.94 L179.07 202.53 L179.22 202.12 L179.37 201.74 L179.53 201.38 L179.68 201.05 L179.83 200.77 L179.98 200.54 L180.14 200.36 L180.29 200.24 L180.44 200.17 L180.6 200.17 L180.75 200.23 L180.9 200.35 L181.06 200.52 L181.21 200.74 L181.36 201 L181.52 201.3 L181.67 201.62 L181.82 201.96 L181.97 202.31 L182.13 202.66 L182.28 203 L182.43 203.31 L182.59 203.6 L182.74 203.85 L182.89 204.06 L183.05 204.21 L183.2 204.31 L183.35 204.35 L183.51 204.32 L183.66 204.24 L183.81 204.09 L183.97 203.88 L184.12 203.61 L184.27 203.29 L184.42 202.93 L184.58 202.53 L184.73 202.09 L184.88 201.64 L185.04 201.17 L185.19 200.7 L185.34 200.24 L185.5 199.79 L185.65 199.37 L185.8 198.98 L185.96 198.63 L186.11 198.33 L186.26 198.07 L186.42 197.87 L186.57 197.72 L186.72 197.62 L186.88 197.58 L187.03 197.58 L187.18 197.62 L187.33 197.7 L187.49 197.79 L187.64 197.88 L187.79 197.95 L187.95 197.91 L188.1 196.78" stroke="#000" stroke-width="1" fill="none" />
<path d="M202.6 208.2 H209 M205.8 205 V211.4" stroke="#000" stroke-width="1.3" fill="none" />
<ellipse cx="233.7" cy="206.2" rx="22.7" ry="10.1" fill="none" stroke="#000" stroke-width="1.0"/>
<path d="M222.4 214.96 L222.96 215.1 L223.53 215.23 L224.1 215.35 L224.68 215.47 L225.27 215.58 L225.87 215.68 L226.47 215.77 L227.08 215.86 L227.69 215.94 L228.31 216.01 L228.93 216.07 L229.56 216.13 L230.19 216.18 L230.82 216.22 L231.46 216.25 L232.09 216.27 L232.73 216.29 L233.37 216.3 L234.01 216.3 L234.65 216.29 L235.28 216.28 L235.92 216.25 L236.55 216.22 L237.19 216.18 L237.82 216.13 L238.44 216.08 L239.07 216.01 L239.68 215.94 L240.3 215.86 L240.91 215.78 L241.51 215.68 L242.11 215.58 L242.7 215.47 L243.28 215.36 L243.85 215.23 L244.42 215.1 L244.98 214.96 L245.53 214.82 L246.07 214.67 L246.6 214.51" stroke="#000" stroke-width="2.4" fill="none" />
<path d="M236.3 196.1 L231.3 193.7 L231.3 198.5 Z" fill="#000"/>
<path d="M232.2 216.3 L237.2 213.6 L237.2 219 Z" fill="#000"/>
<circle cx="211.6" cy="206" r="1.7" fill="#000"/>
<circle cx="255.8" cy="206" r="1.7" fill="#000"/>
<circle cx="222.4" cy="214.96" r="1.4" fill="#000"/>
<circle cx="246.6" cy="214.51" r="1.4" fill="#000"/>
<path d="M222.4 214.96 L222.55 213.01 L222.7 212.24 L222.85 211.62 L223 211.09 L223.16 210.62 L223.31 210.22 L223.46 209.88 L223.61 209.6 L223.76 209.38 L223.91 209.22 L224.06 209.12 L224.22 209.08 L224.37 209.1 L224.52 209.17 L224.67 209.28 L224.82 209.44 L224.97 209.63 L225.12 209.85 L225.27 210.08 L225.43 210.33 L225.58 210.58 L225.73 210.83 L225.88 211.06 L226.03 211.27 L226.18 211.46 L226.33 211.6 L226.48 211.71 L226.63 211.78 L226.79 211.8 L226.94 211.77 L227.09 211.68 L227.24 211.55 L227.39 211.37 L227.54 211.15 L227.69 210.89 L227.84 210.59 L228 210.26 L228.15 209.91 L228.3 209.55 L228.45 209.18 L228.6 208.81 L228.75 208.45 L228.9 208.11 L229.06 207.79 L229.21 207.5 L229.36 207.25 L229.51 207.04 L229.66 206.89 L229.81 206.78 L229.96 206.72 L230.11 206.72 L230.27 206.76 L230.42 206.86 L230.57 207.01 L230.72 207.2 L230.87 207.42 L231.02 207.68 L231.17 207.96 L231.32 208.26 L231.47 208.57 L231.63 208.87 L231.78 209.18 L231.93 209.46 L232.08 209.73 L232.23 209.96 L232.38 210.16 L232.53 210.32 L232.69 210.43 L232.84 210.49 L232.99 210.51 L233.14 210.47 L233.29 210.38 L233.44 210.25 L233.59 210.07 L233.74 209.84 L233.9 209.59 L234.05 209.3 L234.2 208.99 L234.35 208.67 L234.5 208.34 L234.65 208 L234.8 207.68 L234.95 207.38 L235.1 207.1 L235.26 206.85 L235.41 206.63 L235.56 206.47 L235.71 206.34 L235.86 206.27 L236.01 206.25 L236.16 206.28 L236.31 206.37 L236.47 206.5 L236.62 206.68 L236.77 206.91 L236.92 207.17 L237.07 207.46 L237.22 207.78 L237.37 208.11 L237.53 208.45 L237.68 208.8 L237.83 209.13 L237.98 209.46 L238.13 209.76 L238.28 210.03 L238.43 210.26 L238.58 210.45 L238.74 210.6 L238.89 210.7 L239.04 210.75 L239.19 210.75 L239.34 210.7 L239.49 210.6 L239.64 210.46 L239.79 210.27 L239.94 210.05 L240.1 209.8 L240.25 209.53 L240.4 209.25 L240.55 208.95 L240.7 208.66 L240.85 208.38 L241 208.11 L241.16 207.87 L241.31 207.67 L241.46 207.5 L241.61 207.37 L241.76 207.29 L241.91 207.26 L242.06 207.28 L242.21 207.36 L242.37 207.49 L242.52 207.67 L242.67 207.9 L242.82 208.18 L242.97 208.49 L243.12 208.83 L243.27 209.2 L243.42 209.59 L243.57 209.99 L243.73 210.4 L243.88 210.8 L244.03 211.18 L244.18 211.55 L244.33 211.89 L244.48 212.19 L244.63 212.46 L244.78 212.7 L244.94 212.88 L245.09 213.03 L245.24 213.13 L245.39 213.19 L245.54 213.21 L245.69 213.2 L245.84 213.17 L246 213.13 L246.15 213.1 L246.3 213.1 L246.45 213.22 L246.6 214.51" stroke="#000" stroke-width="1" fill="none" />
<path d="M259.5 208.2 H265.9 M262.7 205 V211.4" stroke="#000" stroke-width="1.3" fill="none" />
<ellipse cx="290.8" cy="206.2" rx="22.7" ry="10.6" fill="none" stroke="#000" stroke-width="1.0"/>
<path d="M278 197.45 L278.55 197.28 L279.11 197.11 L279.68 196.96 L280.26 196.81 L280.85 196.67 L281.44 196.54 L282.05 196.42 L282.66 196.31 L283.28 196.2 L283.9 196.1 L284.53 196.01 L285.17 195.93 L285.81 195.86 L286.45 195.8 L287.1 195.74 L287.75 195.7 L288.41 195.66 L289.07 195.63 L289.72 195.61 L290.38 195.6 L291.04 195.6 L291.7 195.61 L292.36 195.62 L293.01 195.65 L293.67 195.68 L294.32 195.73 L294.97 195.78 L295.62 195.84 L296.26 195.91 L296.9 195.99 L297.53 196.08 L298.15 196.17 L298.77 196.28 L299.39 196.39 L299.99 196.51 L300.59 196.64 L301.18 196.77 L301.77 196.92 L302.34 197.07 L302.9 197.23" stroke="#000" stroke-width="2.4" fill="none" />
<path d="M278 214.95 L278.55 215.12 L279.11 215.29 L279.68 215.44 L280.26 215.59 L280.85 215.73 L281.44 215.86 L282.05 215.98 L282.66 216.09 L283.28 216.2 L283.9 216.3 L284.53 216.39 L285.17 216.47 L285.81 216.54 L286.45 216.6 L287.1 216.66 L287.75 216.7 L288.41 216.74 L289.07 216.77 L289.72 216.79 L290.38 216.8 L291.04 216.8 L291.7 216.79 L292.36 216.78 L293.01 216.75 L293.67 216.72 L294.32 216.67 L294.97 216.62 L295.62 216.56 L296.26 216.49 L296.9 216.41 L297.53 216.32 L298.15 216.23 L298.77 216.12 L299.39 216.01 L299.99 215.89 L300.59 215.76 L301.18 215.63 L301.77 215.48 L302.34 215.33 L302.9 215.17" stroke="#000" stroke-width="2.4" fill="none" />
<path d="M291.3 195.6 L286.7 193.2 L286.7 198 Z" fill="#000"/>
<path d="M291.3 216.8 L295.9 214.2 L295.9 219.4 Z" fill="#000"/>
<circle cx="268.8" cy="206" r="1.7" fill="#000"/>
<circle cx="312.8" cy="206" r="1.7" fill="#000"/>
<circle cx="278" cy="197.45" r="1.4" fill="#000"/>
<circle cx="302.9" cy="197.23" r="1.4" fill="#000"/>
<path d="M278 197.45 L278.16 199.35 L278.31 200.09 L278.47 200.69 L278.62 201.2 L278.78 201.65 L278.93 202.03 L279.09 202.36 L279.25 202.63 L279.4 202.84 L279.56 202.99 L279.71 203.08 L279.87 203.12 L280.02 203.1 L280.18 203.04 L280.33 202.93 L280.49 202.78 L280.65 202.59 L280.8 202.39 L280.96 202.16 L281.11 201.92 L281.27 201.68 L281.42 201.44 L281.58 201.22 L281.74 201.02 L281.89 200.84 L282.05 200.7 L282.2 200.59 L282.36 200.53 L282.51 200.51 L282.67 200.53 L282.82 200.61 L282.98 200.73 L283.14 200.9 L283.29 201.11 L283.45 201.36 L283.6 201.64 L283.76 201.95 L283.91 202.28 L284.07 202.62 L284.23 202.97 L284.38 203.32 L284.54 203.66 L284.69 203.99 L284.85 204.29 L285 204.56 L285.16 204.79 L285.31 204.98 L285.47 205.13 L285.63 205.23 L285.78 205.28 L285.94 205.29 L286.09 205.24 L286.25 205.14 L286.4 205 L286.56 204.82 L286.71 204.6 L286.87 204.35 L287.03 204.08 L287.18 203.79 L287.34 203.49 L287.49 203.2 L287.65 202.91 L287.8 202.63 L287.96 202.37 L288.12 202.15 L288.27 201.96 L288.43 201.8 L288.58 201.69 L288.74 201.63 L288.89 201.61 L289.05 201.64 L289.2 201.72 L289.36 201.85 L289.52 202.01 L289.67 202.22 L289.83 202.46 L289.98 202.73 L290.14 203.02 L290.29 203.33 L290.45 203.64 L290.61 203.95 L290.76 204.25 L290.92 204.54 L291.07 204.8 L291.23 205.04 L291.38 205.23 L291.54 205.39 L291.69 205.5 L291.85 205.57 L292.01 205.58 L292.16 205.55 L292.32 205.46 L292.47 205.33 L292.63 205.15 L292.78 204.94 L292.94 204.68 L293.1 204.4 L293.25 204.09 L293.41 203.77 L293.56 203.44 L293.72 203.11 L293.87 202.78 L294.03 202.47 L294.19 202.18 L294.34 201.92 L294.5 201.69 L294.65 201.5 L294.81 201.36 L294.96 201.26 L295.12 201.2 L295.27 201.2 L295.43 201.24 L295.59 201.33 L295.74 201.46 L295.9 201.63 L296.05 201.84 L296.21 202.07 L296.36 202.32 L296.52 202.59 L296.67 202.87 L296.83 203.14 L296.99 203.4 L297.14 203.65 L297.3 203.87 L297.45 204.06 L297.61 204.22 L297.76 204.34 L297.92 204.41 L298.08 204.43 L298.23 204.4 L298.39 204.32 L298.54 204.19 L298.7 204.01 L298.85 203.79 L299.01 203.52 L299.16 203.22 L299.32 202.88 L299.48 202.52 L299.63 202.15 L299.79 201.76 L299.94 201.37 L300.1 200.98 L300.25 200.61 L300.41 200.25 L300.57 199.92 L300.72 199.62 L300.88 199.36 L301.03 199.13 L301.19 198.95 L301.34 198.8 L301.5 198.7 L301.65 198.63 L301.81 198.6 L301.97 198.6 L302.12 198.62 L302.28 198.65 L302.43 198.67 L302.59 198.64 L302.74 198.51 L302.9 197.23" stroke="#000" stroke-width="1" fill="none" />
<circle cx="278.6" cy="215.14" r="1.4" fill="#000"/>
<circle cx="303.2" cy="215.08" r="1.4" fill="#000"/>
<path d="M278.6 215.14 L278.75 213.21 L278.91 212.46 L279.06 211.85 L279.22 211.34 L279.37 210.88 L279.52 210.49 L279.68 210.16 L279.83 209.89 L279.98 209.68 L280.14 209.52 L280.29 209.43 L280.44 209.39 L280.6 209.4 L280.75 209.46 L280.91 209.57 L281.06 209.71 L281.21 209.89 L281.37 210.1 L281.52 210.32 L281.68 210.56 L281.83 210.8 L281.98 211.03 L282.14 211.25 L282.29 211.45 L282.44 211.62 L282.6 211.77 L282.75 211.87 L282.91 211.93 L283.06 211.95 L283.21 211.92 L283.37 211.84 L283.52 211.72 L283.67 211.55 L283.83 211.33 L283.98 211.08 L284.13 210.8 L284.29 210.49 L284.44 210.15 L284.6 209.81 L284.75 209.46 L284.9 209.1 L285.06 208.76 L285.21 208.43 L285.37 208.13 L285.52 207.86 L285.67 207.62 L285.83 207.43 L285.98 207.28 L286.13 207.17 L286.29 207.12 L286.44 207.12 L286.6 207.16 L286.75 207.26 L286.9 207.4 L287.06 207.58 L287.21 207.8 L287.36 208.04 L287.52 208.31 L287.67 208.6 L287.82 208.89 L287.98 209.19 L288.13 209.48 L288.29 209.75 L288.44 210 L288.59 210.23 L288.75 210.42 L288.9 210.57 L289.06 210.68 L289.21 210.74 L289.36 210.76 L289.52 210.72 L289.67 210.64 L289.82 210.51 L289.98 210.34 L290.13 210.14 L290.29 209.89 L290.44 209.62 L290.59 209.33 L290.75 209.02 L290.9 208.71 L291.05 208.4 L291.21 208.09 L291.36 207.8 L291.51 207.54 L291.67 207.3 L291.82 207.1 L291.98 206.95 L292.13 206.83 L292.28 206.77 L292.44 206.75 L292.59 206.78 L292.75 206.86 L292.9 207 L293.05 207.17 L293.21 207.39 L293.36 207.64 L293.51 207.92 L293.67 208.23 L293.82 208.55 L293.98 208.88 L294.13 209.21 L294.28 209.53 L294.44 209.84 L294.59 210.13 L294.74 210.39 L294.9 210.62 L295.05 210.8 L295.2 210.95 L295.36 211.05 L295.51 211.1 L295.67 211.1 L295.82 211.06 L295.97 210.97 L296.13 210.83 L296.28 210.66 L296.44 210.46 L296.59 210.22 L296.74 209.97 L296.9 209.7 L297.05 209.42 L297.2 209.15 L297.36 208.89 L297.51 208.64 L297.67 208.41 L297.82 208.22 L297.97 208.06 L298.13 207.95 L298.28 207.87 L298.43 207.85 L298.59 207.88 L298.74 207.96 L298.89 208.09 L299.05 208.27 L299.2 208.49 L299.36 208.76 L299.51 209.06 L299.66 209.39 L299.82 209.75 L299.97 210.13 L300.12 210.51 L300.28 210.9 L300.43 211.29 L300.59 211.66 L300.74 212.02 L300.89 212.35 L301.05 212.65 L301.2 212.91 L301.36 213.14 L301.51 213.33 L301.66 213.47 L301.82 213.57 L301.97 213.64 L302.12 213.67 L302.28 213.67 L302.43 213.66 L302.58 213.63 L302.74 213.61 L302.89 213.64 L303.05 213.77 L303.2 215.08" stroke="#000" stroke-width="1" fill="none" />
<path d="M317.9 208 H324.1 M321 204.9 V211.1" stroke="#000" stroke-width="1.3" fill="none" />
<text x="326" y="212.4" font-size="10.5" text-anchor="start" fill="#111" >...</text>
<g transform="translate(0 0)"><path d="M131.3 225.9 C131.0 224.4 129.5 223.9 128.2 224.4 C126.0 225.3 124.7 228.3 124.9 230.9 C125.1 233.1 126.4 234.2 127.9 233.9 C129.4 233.6 130.5 232.0 131.2 229.9 M132.4 227.9 C132.1 230.7 131.6 233.7 130.2 235.0 C129.3 235.8 127.9 235.9 126.9 235.5" stroke="#111" stroke-width="0.95" fill="none" stroke-linecap="round"/><path d="M125.3 227.6 C124.7 229.4 124.8 231.6 125.7 232.9" stroke="#111" stroke-width="1.3" fill="none"/></g><text x="132.6" y="235.9" font-size="7.6" font-weight="bold" fill="#111">k</text>
<line x1="118.2" y1="241" x2="148.9" y2="241" stroke="#000" stroke-width="2" />
<path d="M137.2 241 L131.2 238.4 L131.2 243.6 Z" fill="#000"/>
<path d="M155 239.3 H162 M155 242.8 H162" stroke="#000" stroke-width="1.3" fill="none" />
<g transform="translate(51.1 -0.3)"><path d="M131.3 225.9 C131.0 224.4 129.5 223.9 128.2 224.4 C126.0 225.3 124.7 228.3 124.9 230.9 C125.1 233.1 126.4 234.2 127.9 233.9 C129.4 233.6 130.5 232.0 131.2 229.9 M132.4 227.9 C132.1 230.7 131.6 233.7 130.2 235.0 C129.3 235.8 127.9 235.9 126.9 235.5" stroke="#111" stroke-width="0.95" fill="none" stroke-linecap="round"/><path d="M125.3 227.6 C124.7 229.4 124.8 231.6 125.7 232.9" stroke="#111" stroke-width="1.3" fill="none"/></g><text x="183.9" y="228.7" font-size="6.2" text-anchor="start" fill="#111" >0</text><text x="183.7" y="235.6" font-size="7.6" font-weight="bold" fill="#111">k</text>
<line x1="165.1" y1="240.9" x2="200.9" y2="240.9" stroke="#000" stroke-width="0.9" />
<path d="M187.8 240.9 L182.3 238.5 L182.3 243.3 Z" fill="#000"/>
<path d="M204.6 240.4 H211.6 M208.1 236.9 V243.9" stroke="#000" stroke-width="1.3" fill="none" />
<g transform="translate(102.9 -0.3)"><path d="M131.3 225.9 C131.0 224.4 129.5 223.9 128.2 224.4 C126.0 225.3 124.7 228.3 124.9 230.9 C125.1 233.1 126.4 234.2 127.9 233.9 C129.4 233.6 130.5 232.0 131.2 229.9 M132.4 227.9 C132.1 230.7 131.6 233.7 130.2 235.0 C129.3 235.8 127.9 235.9 126.9 235.5" stroke="#111" stroke-width="0.95" fill="none" stroke-linecap="round"/><path d="M125.3 227.6 C124.7 229.4 124.8 231.6 125.7 232.9" stroke="#111" stroke-width="1.3" fill="none"/></g><text x="235.7" y="228.7" font-size="6.2" text-anchor="start" fill="#111" >0</text><text x="235.5" y="235.6" font-size="7.6" font-weight="bold" fill="#111">k</text>
<line x1="217.7" y1="240.9" x2="284.6" y2="240.6" stroke="#000" stroke-width="0.9" />
<path d="M241 240.9 L235.5 238.5 L235.5 243.3 Z" fill="#000"/>
<path d="M272.4 240.6 L266.9 238.2 L266.9 243 Z" fill="#000"/>
<line x1="284.6" y1="240.6" x2="318.5" y2="240.6" stroke="#000" stroke-width="2" />
<path d="M306.7 240.6 L300.7 238 L300.7 243.2 Z" fill="#000"/>
<circle cx="255.3" cy="240.6" r="1.8" fill="#000"/>
<circle cx="284.6" cy="240.6" r="1.8" fill="#000"/>
<g transform="translate(173.2 0)"><path d="M131.3 225.9 C131.0 224.4 129.5 223.9 128.2 224.4 C126.0 225.3 124.7 228.3 124.9 230.9 C125.1 233.1 126.4 234.2 127.9 233.9 C129.4 233.6 130.5 232.0 131.2 229.9 M132.4 227.9 C132.1 230.7 131.6 233.7 130.2 235.0 C129.3 235.8 127.9 235.9 126.9 235.5" stroke="#111" stroke-width="0.95" fill="none" stroke-linecap="round"/><path d="M125.3 227.6 C124.7 229.4 124.8 231.6 125.7 232.9" stroke="#111" stroke-width="1.3" fill="none"/></g><text x="305.8" y="235.9" font-size="7.6" font-weight="bold" fill="#111">k</text>
<path d="M255.6 240.6 A3.35 5 -75.71 1 1 257.03 235 A3.35 5 -48.32 1 1 261.02 230.51 A3.35 5 -23.34 1 1 266.8 228.02 A3.35 5 0 1 1 273.2 228.02 A3.35 5 23.34 1 1 278.98 230.51 A3.35 5 48.32 1 1 282.97 235 A3.35 5 75.71 1 1 284.4 240.6" stroke="#000" stroke-width="0.95" fill="none" />
<text x="265.7" y="235.6" font-size="10.4" text-anchor="start" fill="#111" >&#931;</text>
<text x="271.6" y="236.8" font-size="7.4" text-anchor="start" fill="#111" font-weight="bold">k</text>
</svg>
</body></html>
